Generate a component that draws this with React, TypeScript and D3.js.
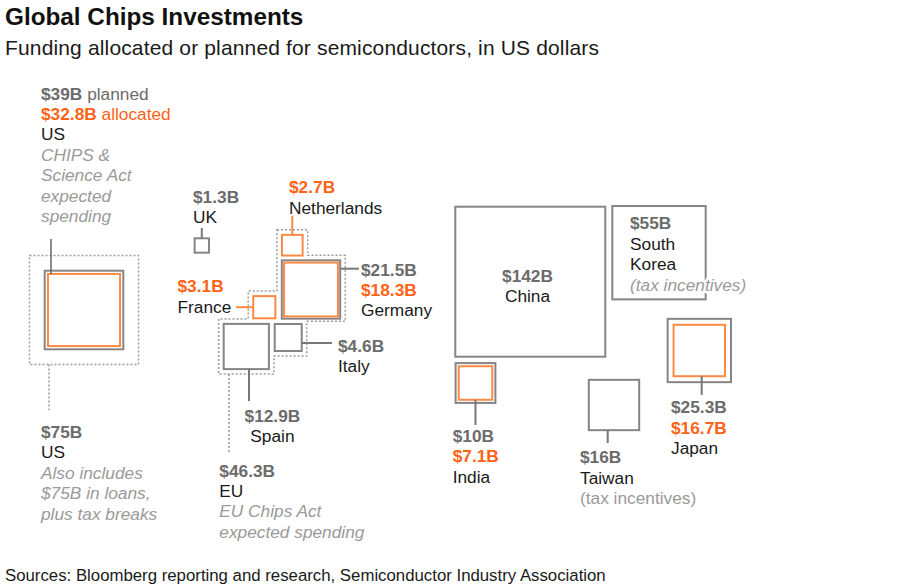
import * as d3 from 'd3'

// values in billions of US dollars
const countries = ['US', 'UK', 'Netherlands', 'Germany', 'France', 'Italy', 'Spain', 'China', 'South Korea', 'Japan', 'Taiwan', 'India']
const plannedB: (number | null)[] = [39, 1.3, null, 21.5, null, 4.6, 12.9, 142, 55, 25.3, 16, 10]
const allocatedB: (number | null)[] = [32.8, null, 2.7, 18.3, 3.1, null, null, null, null, 16.7, null, 7.1]
const groupNames = ['US', 'EU']
const groupTotalsB = [75, 46.3]
const euMembers = ['Netherlands', 'Germany', 'France', 'Italy', 'Spain']

// layout: where each square sits (centre, px)
const boxCentre: Record<string, [number, number]> = {
  US: [84, 310],
  UK: [201.8, 245.5],
  Netherlands: [292.3, 245.2],
  Germany: [311, 289.5],
  France: [264.3, 307.2],
  Italy: [288.2, 337.5],
  Spain: [246.3, 346.5],
  China: [530.3, 281.7],
  'South Korea': [659, 252.7],
  Japan: [699.3, 350.5],
  Taiwan: [614, 405],
  India: [475.5, 383],
}

const W = 922
const H = 588
const FONT = '"Liberation Sans", Arial, Helvetica, sans-serif'
const GREY = '#858585'
const VALUE = '#6b6b6b'
const ORANGE = '#ff6316'
const ORANGE_BOX = '#fb8a45'
const INK = '#1a1a1a'
const NOTE = '#9a9a9a'
const LH = 20.4

// square side proportional to sqrt(value)
const side = d3.scaleSqrt().domain([0, 142]).range([0, 150])

function bounds(name: string) {
  const i = countries.indexOf(name)
  const v = Math.max(plannedB[i] ?? 0, allocatedB[i] ?? 0)
  const s = side(v)
  const [cx, cy] = boxCentre[name]
  return { x0: cx - s / 2, x1: cx + s / 2, y0: cy - s / 2, y1: cy + s / 2 }
}

type Seg = { t: string; kind: 'val' | 'alloc' | 'name' | 'note' | 'plain' | 'valReg' | 'allocReg' }
type Label = { x: number; y: number; anchor?: string; lines: Seg[][]; halo?: boolean }

const segStyle = (k: Seg['kind']) => {
  switch (k) {
    case 'val': return { fill: VALUE, fontWeight: 700 }
    case 'valReg': return { fill: VALUE, fontWeight: 400 }
    case 'alloc': return { fill: ORANGE, fontWeight: 700 }
    case 'allocReg': return { fill: ORANGE, fontWeight: 400 }
    case 'name': return { fill: INK, fontWeight: 400 }
    case 'note': return { fill: NOTE, fontWeight: 400, fontStyle: 'italic' }
    case 'plain': return { fill: NOTE, fontWeight: 400 }
  }
}

const fmt = (v: number) => `$${v}B`
const val = (name: string) => fmt(plannedB[countries.indexOf(name)] as number)
const alloc = (name: string) => fmt(allocatedB[countries.indexOf(name)] as number)

const labels: Label[] = [
  {
    x: 41, y: 99.5, lines: [
      [{ t: val('US'), kind: 'val' }, { t: ' planned', kind: 'valReg' }],
      [{ t: alloc('US'), kind: 'alloc' }, { t: ' allocated', kind: 'allocReg' }],
      [{ t: 'US', kind: 'name' }],
      [{ t: 'CHIPS &', kind: 'note' }],
      [{ t: 'Science Act', kind: 'note' }],
      [{ t: 'expected', kind: 'note' }],
      [{ t: 'spending', kind: 'note' }],
    ],
  },
  {
    x: 41, y: 438, lines: [
      [{ t: fmt(groupTotalsB[0]), kind: 'val' }],
      [{ t: groupNames[0], kind: 'name' }],
      [{ t: 'Also includes', kind: 'note' }],
      [{ t: '$75B in loans,', kind: 'note' }],
      [{ t: 'plus tax breaks', kind: 'note' }],
    ],
  },
  { x: 193, y: 202.5, lines: [[{ t: val('UK'), kind: 'val' }], [{ t: 'UK', kind: 'name' }]] },
  { x: 289, y: 193.3, lines: [[{ t: alloc('Netherlands'), kind: 'alloc' }], [{ t: 'Netherlands', kind: 'name' }]] },
  {
    x: 361, y: 275.6, lines: [
      [{ t: val('Germany'), kind: 'val' }],
      [{ t: alloc('Germany'), kind: 'alloc' }],
      [{ t: 'Germany', kind: 'name' }],
    ],
  },
  { x: 177.5, y: 292.3, lines: [[{ t: alloc('France'), kind: 'alloc' }], [{ t: 'France', kind: 'name' }]] },
  { x: 338, y: 351.7, lines: [[{ t: val('Italy'), kind: 'val' }], [{ t: 'Italy', kind: 'name' }]] },
  { x: 272.4, y: 422, anchor: 'middle', lines: [[{ t: val('Spain'), kind: 'val' }], [{ t: 'Spain', kind: 'name' }]] },
  {
    x: 219.3, y: 476.5, lines: [
      [{ t: fmt(groupTotalsB[1]), kind: 'val' }],
      [{ t: groupNames[1], kind: 'name' }],
      [{ t: 'EU Chips Act', kind: 'note' }],
      [{ t: 'expected spending', kind: 'note' }],
    ],
  },
  { x: 527.5, y: 281.7, anchor: 'middle', lines: [[{ t: val('China'), kind: 'val' }], [{ t: 'China', kind: 'name' }]] },
  {
    x: 630, y: 229.3, halo: true, lines: [
      [{ t: val('South Korea'), kind: 'val' }],
      [{ t: 'South', kind: 'name' }],
      [{ t: 'Korea', kind: 'name' }],
      [{ t: '(tax incentives)', kind: 'note' }],
    ],
  },
  {
    x: 671, y: 413.3, lines: [
      [{ t: val('Japan'), kind: 'val' }],
      [{ t: alloc('Japan'), kind: 'alloc' }],
      [{ t: 'Japan', kind: 'name' }],
    ],
  },
  {
    x: 580, y: 463.3, lines: [
      [{ t: val('Taiwan'), kind: 'val' }],
      [{ t: 'Taiwan', kind: 'name' }],
      [{ t: '(tax incentives)', kind: 'plain' }],
    ],
  },
  {
    x: 452.7, y: 441.7, lines: [
      [{ t: val('India'), kind: 'val' }],
      [{ t: alloc('India'), kind: 'alloc' }],
      [{ t: 'India', kind: 'name' }],
    ],
  },
]

export default function App() {
  const usTotal = side(groupTotalsB[0])
  const [ucx, ucy] = boxCentre.US
  const usOrange = side(allocatedB[0] as number)

  // EU dotted outline hugging its member squares
  const [nl, de, fr, it, sp] = euMembers.map(bounds)
  const p = 5
  const midY = (de.y1 + it.y0) / 2
  const euPts: [number, number][] = [
    [nl.x0 - p, nl.y0 - p], [nl.x1 + p, nl.y0 - p], [nl.x1 + p, de.y0 - p],
    [de.x1 + p, de.y0 - p], [de.x1 + p, midY], [it.x1 + p, midY],
    [it.x1 + p, it.y1 + p], [sp.x1 + p, it.y1 + p], [sp.x1 + p, sp.y1 + p],
    [sp.x0 - p, sp.y1 + p], [sp.x0 - p, sp.y0 - p], [fr.x0 - p, sp.y0 - p],
    [fr.x0 - p, fr.y0 - p], [nl.x0 - p, fr.y0 - p],
  ]
  const euPath = d3.line()(euPts) + 'Z'

  const ukB = bounds('UK')
  const jpO = side(allocatedB[countries.indexOf('Japan')] as number)
  const inO = side(allocatedB[countries.indexOf('India')] as number)
  const tw = bounds('Taiwan')

  return (
    <svg width={W} height={H} style={{ position: 'absolute', left: 0, top: 0, display: 'block', background: '#fff' }}
      fontFamily={FONT}>
      <text x={5} y={25} fontSize={24.3} fontWeight={700} fill="#111">Global Chips Investments</text>
      <text x={5} y={55} fontSize={21} fill="#1a1a1a" letterSpacing={0.15}>Funding allocated or planned for semiconductors, in US dollars</text>

      {/* dotted group outlines */}
      <g fill="none" stroke="#9c9c9c" strokeWidth={1.5} strokeDasharray="2 2">
        <rect x={ucx - usTotal / 2} y={ucy - usTotal / 2} width={usTotal} height={usTotal} />
        <path d={euPath} />
        <line x1={49} x2={49} y1={ucy + usTotal / 2} y2={410} />
        <line x1={229} x2={229} y1={sp.y1 + p} y2={453} />
      </g>

      {/* planned (grey) squares */}
      <g fill="none" stroke={GREY} strokeWidth={2}>
        {countries.map((c, i) => {
          const v = plannedB[i]
          if (v == null) return null
          const s = side(v)
          const [cx, cy] = boxCentre[c]
          return <rect key={c} x={cx - s / 2} y={cy - s / 2} width={s} height={s} />
        })}
      </g>

      {/* allocated (orange) squares */}
      <g fill="none" stroke={ORANGE_BOX} strokeWidth={2}>
        {countries.map((c, i) => {
          const v = allocatedB[i]
          if (v == null) return null
          const s = side(v)
          const [cx, cy] = boxCentre[c]
          return <rect key={c} x={cx - s / 2} y={cy - s / 2} width={s} height={s} />
        })}
      </g>

      {/* leader lines */}
      <g stroke="#777" strokeWidth={2}>
        <line x1={51} x2={51} y1={239} y2={ucy - usOrange / 2} stroke="#666" strokeWidth={1.5} />
        <line x1={boxCentre.UK[0]} x2={boxCentre.UK[0]} y1={228} y2={ukB.y0} />
        <line x1={de.x1} x2={359} y1={268.7} y2={268.7} />
        <line x1={it.x1} x2={332} y1={343} y2={343} />
        <line x1={249} x2={249} y1={sp.y1} y2={401} />
        <line x1={701.7} x2={701.7} y1={boxCentre.Japan[1] + jpO / 2} y2={395} />
        <line x1={607.7} x2={607.7} y1={tw.y1} y2={443} />
        <line x1={boxCentre.India[0]} x2={boxCentre.India[0]} y1={boxCentre.India[1] + inO / 2} y2={425} />
      </g>
      <g stroke={ORANGE_BOX} strokeWidth={2}>
        <line x1={boxCentre.Netherlands[0]} x2={boxCentre.Netherlands[0]} y1={215.7} y2={nl.y0} />
        <line x1={236} x2={fr.x0} y1={boxCentre.France[1]} y2={boxCentre.France[1]} />
      </g>

      {/* labels */}
      <g fontSize={17.3}>
        {labels.map((l, li) => (
          <text key={li} x={l.x} y={l.y} textAnchor={l.anchor ?? 'start'}
            stroke={l.halo ? '#fff' : undefined} strokeWidth={l.halo ? 5 : undefined}
            strokeLinejoin="round" style={{ paintOrder: 'stroke' }}>
            {l.lines.map((segs, j) => (
              <tspan key={j} x={l.x} y={l.y + j * LH}>
                {segs.map((s, k) => (
                  <tspan key={k} {...segStyle(s.kind)}>{s.t}</tspan>
                ))}
              </tspan>
            ))}
          </text>
        ))}
      </g>

      <text x={5} y={581} fontSize={16.8} fill="#1a1a1a">Sources: Bloomberg reporting and research, Semiconductor Industry Association</text>
    </svg>
  )
}
